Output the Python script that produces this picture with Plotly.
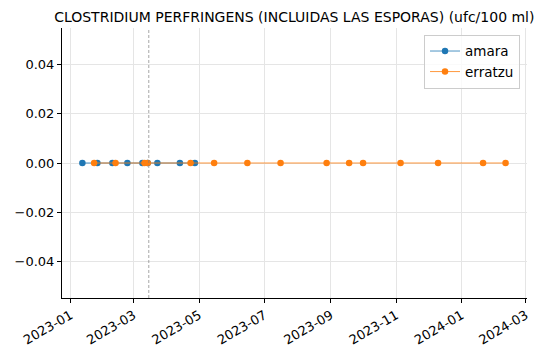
import plotly.graph_objects as go

title = "CLOSTRIDIUM PERFRINGENS (INCLUIDAS LAS ESPORAS) (ufc/100 ml)"

amara_dates = ["2023-01-12", "2023-01-26", "2023-02-09", "2023-02-23", "2023-03-09",
               "2023-03-14", "2023-03-23", "2023-04-13", "2023-04-27"]
amara_values = [0, 0, 0, 0, 0, 0, 0, 0, 0]

erratzu_dates = ["2023-01-23", "2023-02-12", "2023-03-11", "2023-03-14", "2023-04-23",
                 "2023-05-15", "2023-06-15", "2023-07-16", "2023-08-28", "2023-09-18",
                 "2023-10-01", "2023-11-05", "2023-12-10", "2024-01-21", "2024-02-11"]
erratzu_values = [0] * 15

ref_date = "2023-03-15"

x_ticks = ["2023-01-01", "2023-03-01", "2023-05-01", "2023-07-01", "2023-09-01",
           "2023-11-01", "2024-01-01", "2024-03-01"]
x_labels = ["2023-01", "2023-03", "2023-05", "2023-07", "2023-09", "2023-11", "2024-01", "2024-03"]
y_ticks = [-0.04, -0.02, 0.0, 0.02, 0.04]
y_labels = ["\u22120.04", "\u22120.02", "0.00", "0.02", "0.04"]

font = "DejaVu Sans"

fig = go.Figure()
fig.add_trace(go.Scatter(x=amara_dates, y=amara_values, name="amara", mode="lines+markers",
                         line=dict(color="#1f77b4", width=0.8),
                         marker=dict(color="#1f77b4", size=6.5)))
fig.add_trace(go.Scatter(x=erratzu_dates, y=erratzu_values, name="erratzu", mode="lines+markers",
                         line=dict(color="#ff7f0e", width=0.8),
                         marker=dict(color="#ff7f0e", size=6.5)))

fig.add_shape(type="line", xref="x", yref="paper", x0=ref_date, x1=ref_date, y0=0, y1=1,
              line=dict(color="#808080", width=0.7, dash="3px,2px"), layer="above")

fig.update_layout(
    width=542, height=361,
    margin=dict(l=62, r=15, t=28, b=63),
    paper_bgcolor="white", plot_bgcolor="white",
    font=dict(family=font, size=13, color="black"),
    title=dict(text=title, x=0.543, xanchor="center", y=0.953, yanchor="middle",
               font=dict(family=font, size=14, color="black")),
    showlegend=True,
    legend=dict(x=0.985, y=0.975, xanchor="right", yanchor="top",
                bordercolor="#cccccc", borderwidth=1, bgcolor="rgba(255,255,255,0.8)",
                font=dict(family=font, size=13.5)),
    xaxis=dict(type="date", range=["2022-12-24", "2024-03-02"],
               tickvals=x_ticks, ticktext=x_labels, tickangle=-30,
               showgrid=True, gridcolor="#e5e5e5", gridwidth=1,
               showline=True, linecolor="black", linewidth=1,
               ticks="outside", ticklen=4, tickcolor="black", zeroline=False),
    yaxis=dict(range=[-0.055, 0.055], tickvals=y_ticks, ticktext=y_labels,
               showgrid=True, gridcolor="#e5e5e5", gridwidth=1,
               showline=True, linecolor="black", linewidth=1,
               ticks="outside", ticklen=4, tickcolor="black", zeroline=False),
)

fig.write_html("out.html")
